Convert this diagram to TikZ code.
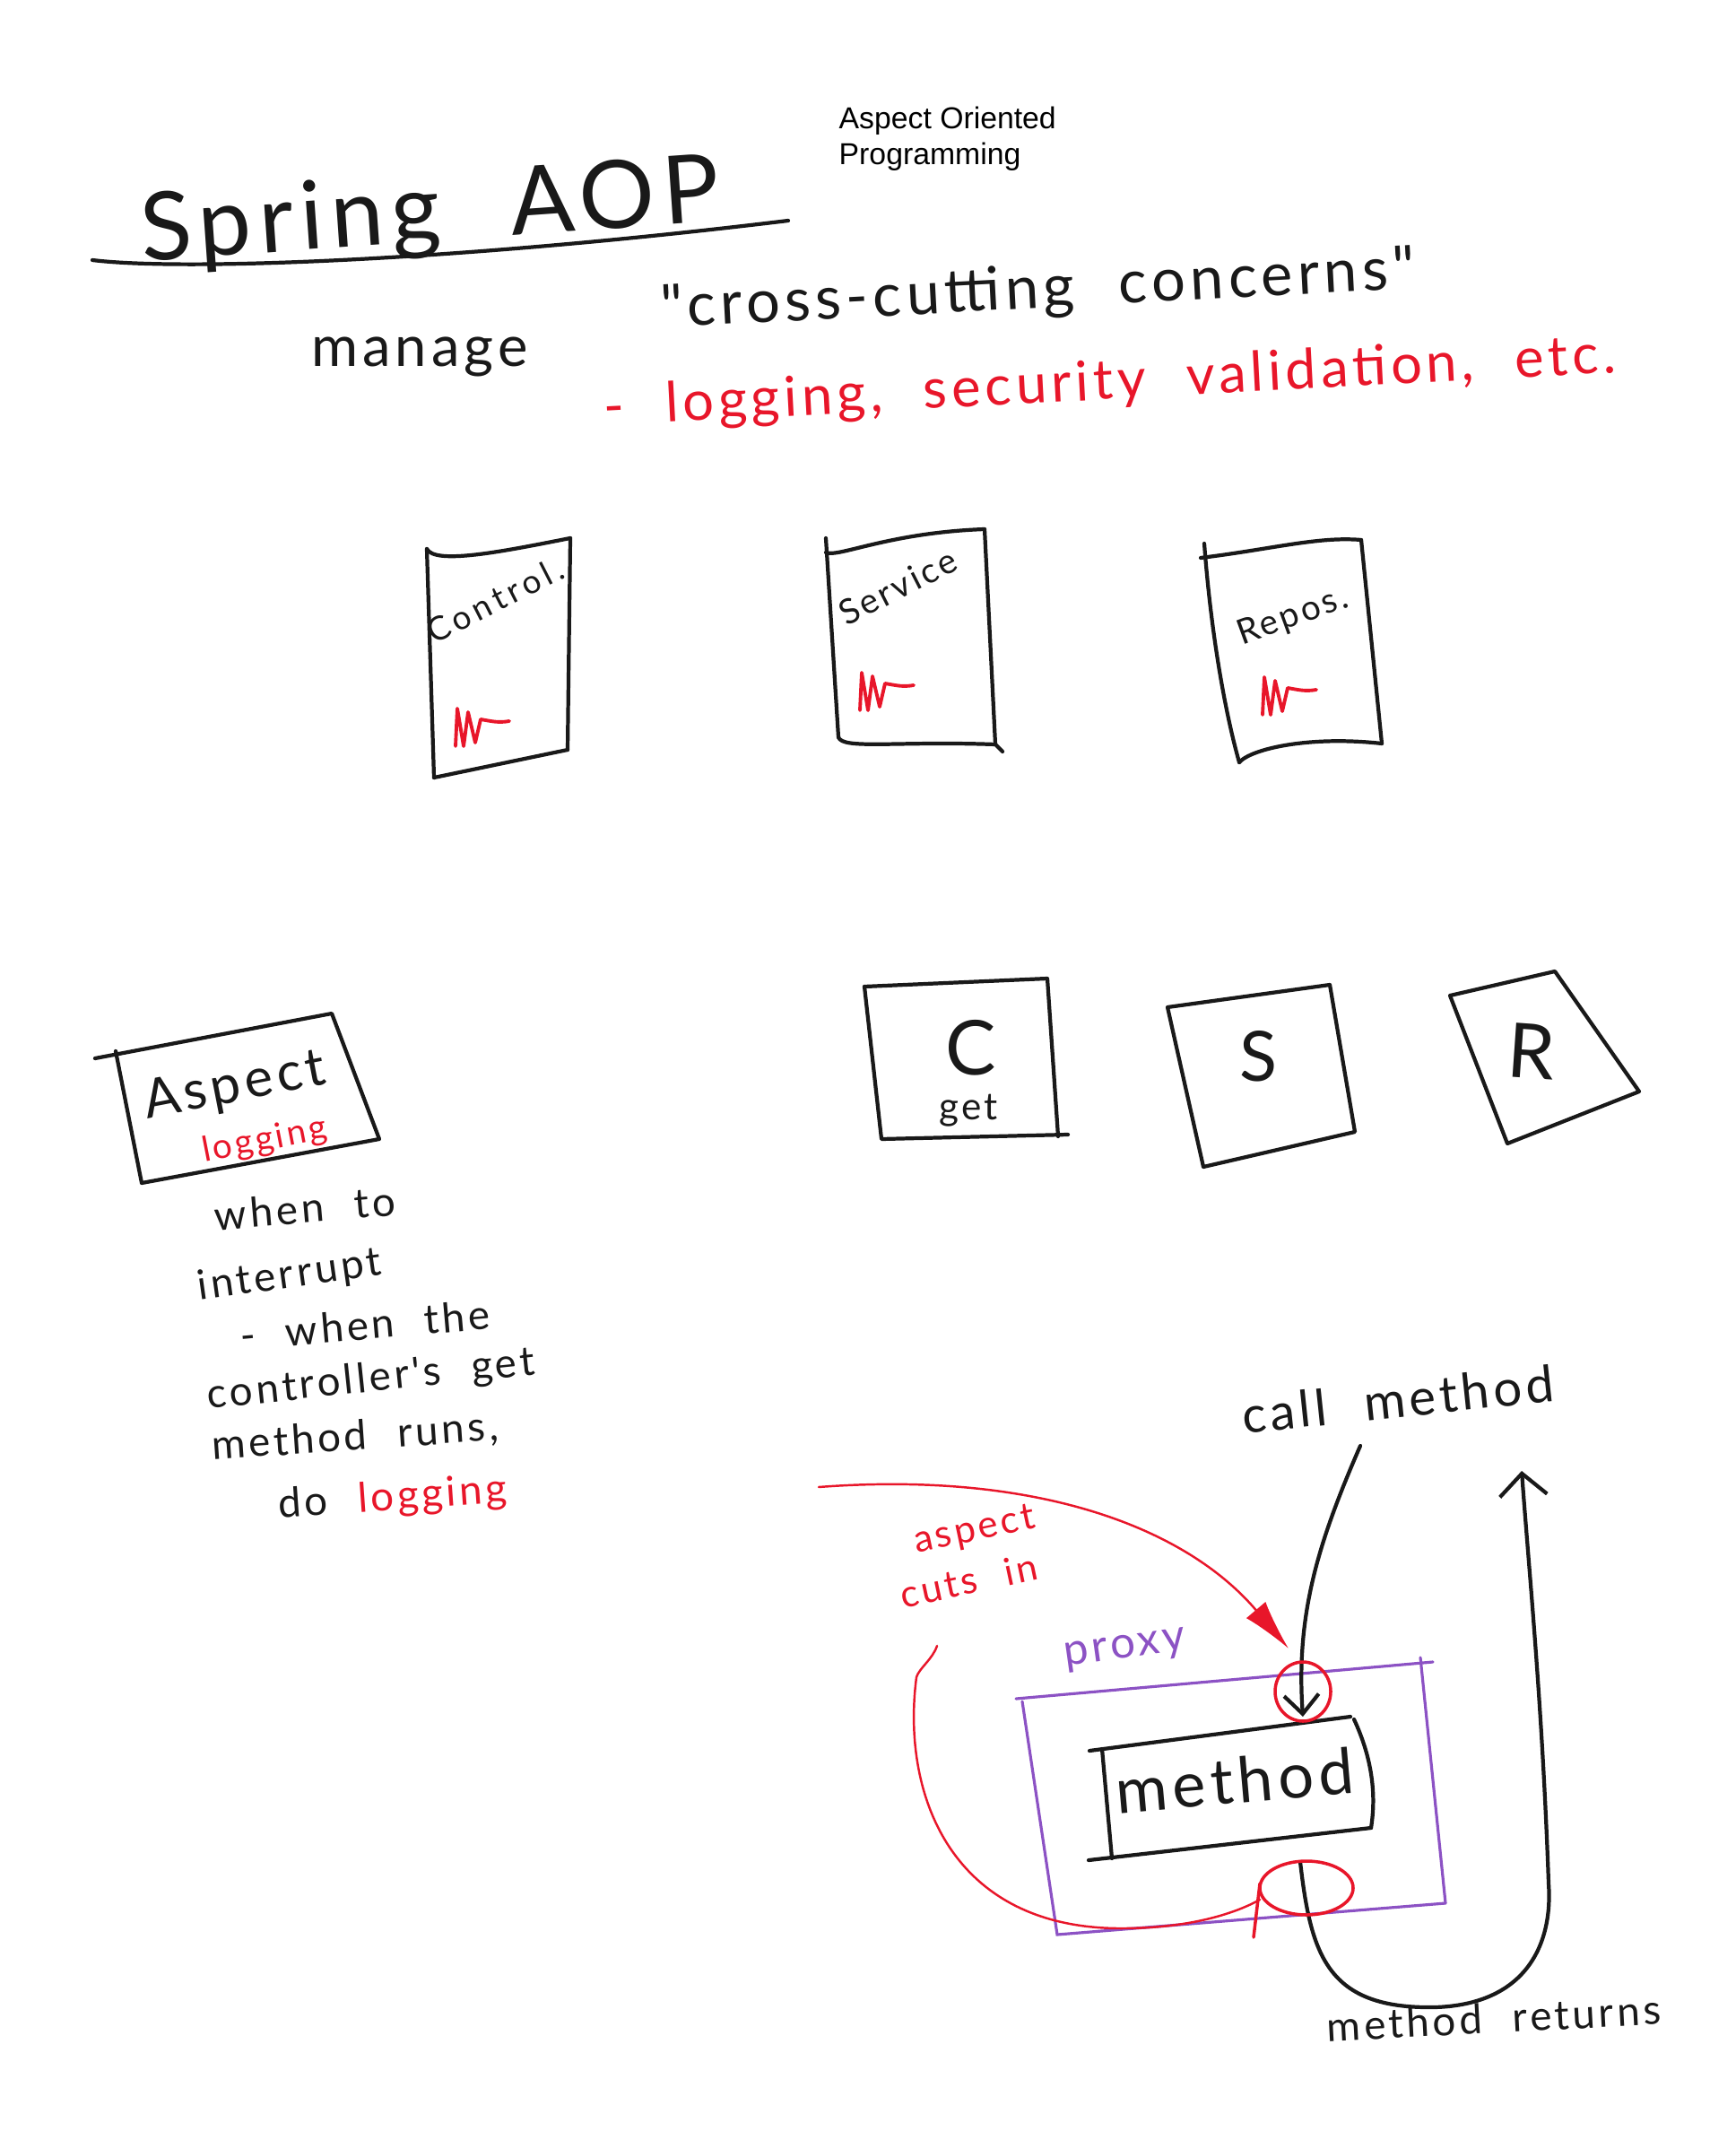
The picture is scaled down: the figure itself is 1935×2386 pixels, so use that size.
\documentclass[tikz,border=0pt]{standalone}
\usepackage{fontspec}
\usetikzlibrary{arrows.meta}
\newfontfamily\handfont{Lato}[LetterSpace=8,WordSpace=2.2]
\newfontfamily\printfont{Liberation Sans}
\definecolor{inkblack}{RGB}{25,25,25}
\definecolor{inkred}{RGB}{232,22,42}
\definecolor{proxypurple}{RGB}{140,82,196}
\tikzset{hand/.style={font=\handfont\fontsize{#1}{#1}\selectfont,inner sep=0pt,text=inkblack}}
\begin{document}
\begin{tikzpicture}[x=0.01cm,y=-0.01cm]
\tikzstyle{sketch}=[draw=inkblack,line width=1.2pt,line cap=round,line join=round]
\tikzstyle{ink}=[draw=inkred,line width=0.7pt,line cap=round]
\tikzstyle{squig}=[draw=inkred,line width=1.1pt,line cap=round,line join=round]
\tikzstyle{proxyline}=[draw=proxypurple,line width=0.9pt,line cap=round]
\useasboundingbox (0,0) rectangle (1935,2386);
\foreach \name/\point in {
	ul1/{103,290}, ul2/{879,246},
	ca/{476,612}, cb/{636,600}, cc/{633,836}, cd/{484,867},
	sa/{921,600}, sb/{1098,590}, sc/{1110,830}, sd/{935,822},
	ra/{1339,622}, rb/{1518,602}, rc/{1541,829}, rd/{1382,850},
	sqc/{508,832}, sqs/{959,792}, sqr/{1408,797},
	ga/{964,1100}, gb/{1168,1091}, gc/{1180,1267}, gd/{983,1270},
	ha/{1302,1123}, hb/{1483,1098}, hc/{1511,1262}, hd/{1342,1301},
	ka/{1617,1110}, kb/{1734,1083}, kc/{1828,1217}, kd/{1681,1275},
	aa/{106,1180}, ab/{370,1130}, ac/{423,1270}, ad/{158,1319},
	pa/{1133,1894}, pb/{1598,1853}, pc/{1612,2122}, pd/{1179,2157},
	ma/{1229,1950}, mb/{1506,1914}, mc/{1529,2038}, md/{1240,2072},
	call/{1517,1612}, mtop/{1453,1914}, mbot/{1450,2076}, back/{1697,1640},
	cut/{913,1658}, cutend/{1437,1838}, hook/{1045,1835}, loop/{1405,2118}}
	\coordinate (\name) at (\point);
% title
\node[hand=30,rotate=4] (title) at (480,240) {Spring AOP};
\draw[sketch] (ul1) .. controls (200,302) and (500,292) .. (ul2);
\node[font=\printfont\fontsize{9.6}{11.6}\selectfont,align=left,anchor=north west,inner sep=0pt] (full) at (935,118) {Aspect Oriented\\Programming};
\node[hand=18] (manage) at (468,398) {manage};
\node[hand=19,rotate=3] (cross) at (1158,325) {"cross-cutting concerns"};
\node[hand=17.5,rotate=3,text=inkred] (examples) at (1238,428) {- logging, security validation, etc.};
% layers
\draw[sketch] (ca) -- (cd);
\draw[sketch] (ca) .. controls (485,630) and (560,615) .. (cb);
\draw[sketch] (cb) -- (cc);
\draw[sketch] (cd) -- (cc);
\node[hand=10.5,rotate=27] (ctrl) at (552,669) {\addfontfeature{LetterSpace=14}Control.};
\draw[sketch] (sa) -- (sd);
\draw[sketch] (sa) ++(0,16) .. controls (935,622) and (990,594) .. (sb);
\draw[sketch] (sb) -- (sc);
\draw[sketch] (sd) .. controls (940,836) and (1000,826) .. (sc) -- ++(8,8);
\node[hand=11,rotate=27] (serv) at (1001,654) {Service};
\draw[sketch] (ra) ++(4,-16) .. controls (1350,700) and (1365,790) .. (rd);
\draw[sketch] (ra) .. controls (1420,612) and (1470,598) .. (rb);
\draw[sketch] (rb) -- (rc);
\draw[sketch] (rd) .. controls (1395,835) and (1460,820) .. (rc);
\node[hand=11,rotate=20] (repo) at (1442,688) {Repos.};
\foreach \s in {sqc,sqs,sqr}
	\draw[squig] (\s) -- ++(2,-42) -- ++(7,42) -- ++(5,-38) -- ++(8,34) -- ++(6,-26) to[out=-10,in=190] ++(32,2);
% C S R
\draw[sketch] (ga) -- (gb) -- (gc);
\draw[sketch] (ga) -- (gd) -- ++(208,-5);
\node[hand=24] (c) at (1083,1168) {C};
\node[hand=12] (get) at (1080,1238) {get};
\draw[sketch] (ha) -- (hb) -- (hc) -- (hd) -- cycle;
\node[hand=22] (s) at (1403,1178) {S};
\draw[sketch] (ka) -- (kb) -- (kc) -- (kd) -- cycle;
\node[hand=24,rotate=-4] (r) at (1708,1172) {R};
% aspect
\draw[sketch] (aa) -- (ab) -- (ac) -- (ad) -- (129,1172);
\node[hand=17,rotate=11] (aspect) at (262,1212) {Aspect};
\node[hand=11,rotate=11,text=inkred] (logging) at (295,1272) {logging};
\node[hand=13,rotate=5] (when) at (340,1347) {when to};
\node[hand=13,rotate=8] (interrupt) at (323,1423) {interrupt};
\node[hand=13,rotate=5] (whenthe) at (407,1477) {- when the};
\node[hand=13,rotate=6] (controller) at (414,1539) {controller's get};
\node[hand=13,rotate=4] (runs) at (396,1603) {method runs,};
\node[hand=13,rotate=4] (dolog) at (438,1671) {do {\color{inkred}logging}};
% proxy and method
\node[hand=16,rotate=6] (callm) at (1559,1560) {call method};
\draw[proxyline] (pa) -- (pb);
\draw[proxyline] (1140,1897) -- (pd) -- (pc);
\draw[proxyline] (1584,1848) -- (pc);
\node[hand=14,rotate=8,text=proxypurple] (proxy) at (1255,1840) {proxy};
\draw[sketch] (1215,1952) -- (mb);
\draw[sketch] (ma) -- (md);
\draw[sketch] (1214,2074) -- (mc);
\draw[sketch] (1510,1917) .. controls (1530,1960) and (1535,2000) .. (mc);
\node[hand=20,rotate=5] (method) at (1377,1985) {method};
\draw[sketch,-{Straight Barb[length=6pt,width=11pt]}] (call) .. controls (1470,1720) and (1445,1800) .. (mtop);
\draw[sketch,-{Straight Barb[length=7pt,width=15pt]}] (mbot) .. controls (1462,2180) and (1480,2240) .. (1600,2238) .. controls (1700,2235) and (1732,2170) .. (1727,2100) .. controls (1720,1900) and (1705,1750) .. (back);
\node[hand=13,rotate=3] (returns) at (1666,2250) {method returns};
% aspect cuts in
\draw[ink,-{Latex[length=16pt,width=8pt]}] (cut) .. controls (1150,1640) and (1320,1700) .. (cutend);
\node[hand=12,rotate=12,text=inkred] (aspectcut) at (1087,1707) {aspect};
\node[hand=12,rotate=12,text=inkred] (cutsin) at (1080,1762) {cuts in};
\draw[ink,line width=1pt] (mtop) ++(0,-28) ellipse [x radius=31, y radius=33];
\draw[ink] (hook) .. controls (1040,1850) and (1025,1860) .. (1022,1870) .. controls (1005,2000) and (1060,2150) .. (1250,2150) .. controls (1330,2150) and (1380,2132) .. (loop);
\draw[ink,line width=1pt] (1457,2105) ellipse [x radius=52, y radius=30];
\draw[ink,line width=1pt] (1405,2100) -- (1398,2160);
\end{tikzpicture}
\end{document}
